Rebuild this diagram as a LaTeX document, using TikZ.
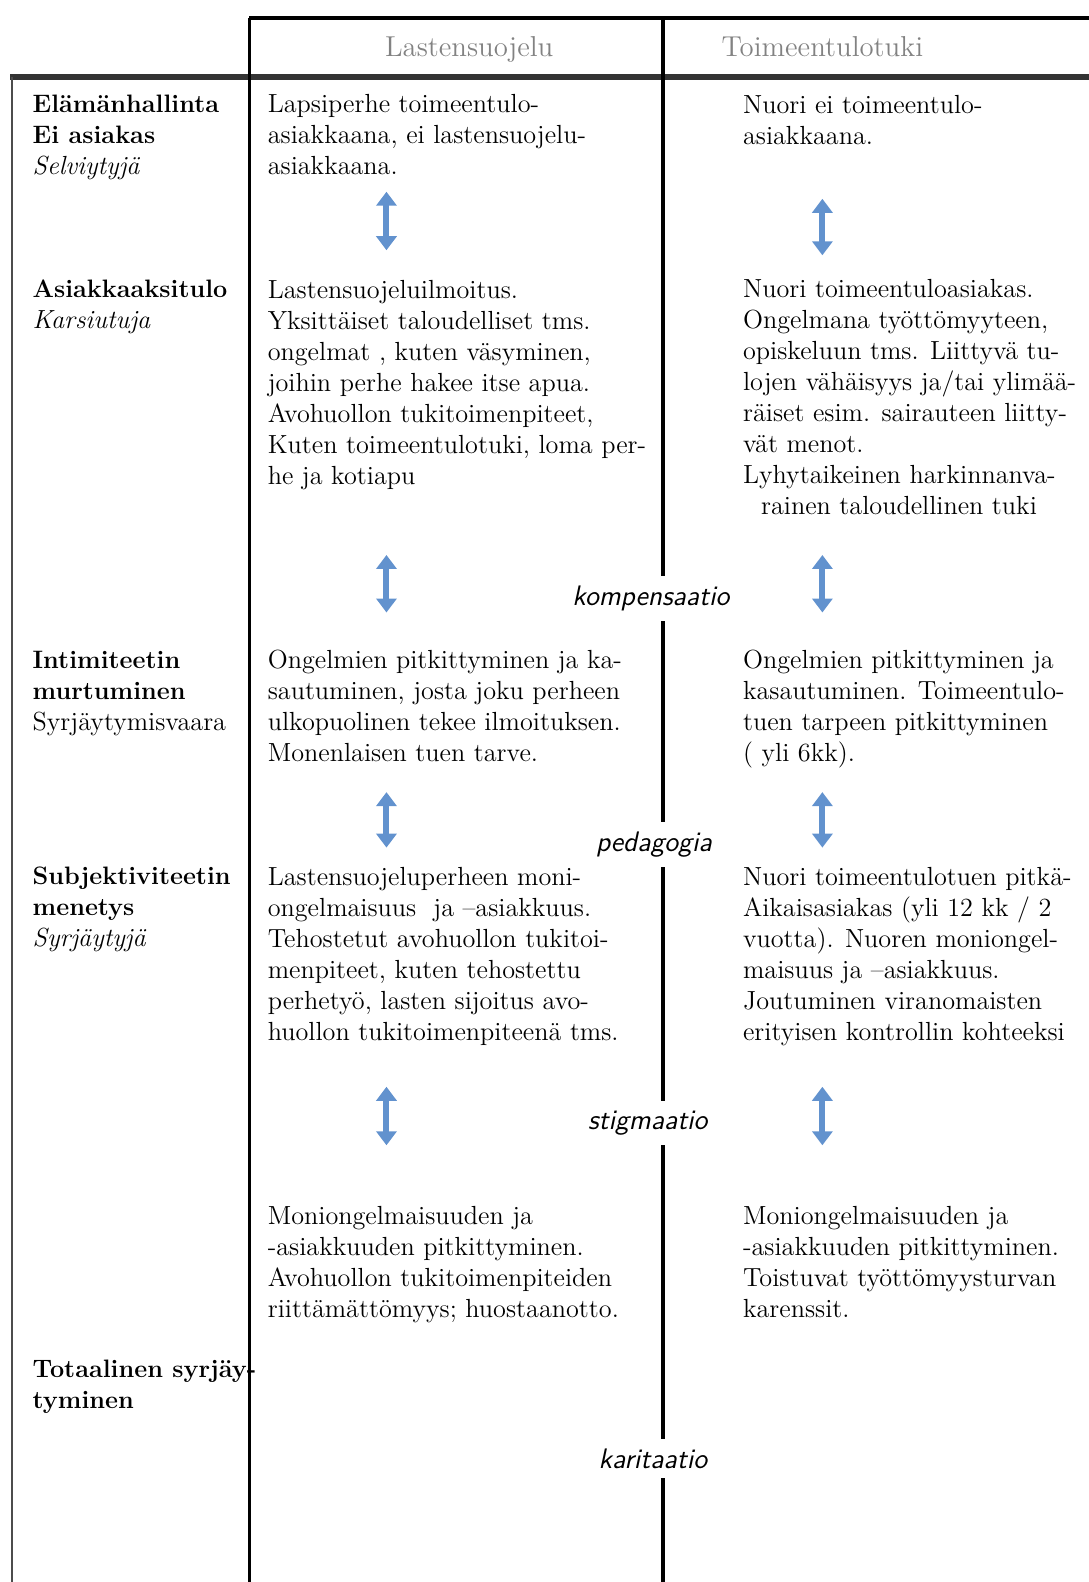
\documentclass[tikz,border=0pt]{standalone}
\usepackage{fontspec}
\usetikzlibrary{arrows.meta}
\definecolor{sininen}{RGB}{98,146,206}
\definecolor{harmaa}{RGB}{130,130,130}
\newcommand{\vahva}[1]{{\fontsize{12.6}{15.5}\selectfont\bfseries #1}}
\begin{document}
\begin{tikzpicture}[x=0.5045pt,y=-0.5045pt,
    teksti/.style={anchor=base west,align=left,inner sep=0pt,font=\fontsize{13.1}{15.5}\selectfont},
    otsikko/.style={anchor=base,inner sep=0pt,text=harmaa,font=\fontsize{14.4}{16}\selectfont},
    vali/.style={anchor=base,fill=white,inner xsep=1pt,inner ysep=5pt,font=\fontsize{14.1}{16}\selectfont\sffamily\itshape},
    nuoli/.style={{Triangle[width=10pt,length=7pt]}-{Triangle[width=10pt,length=7pt]},line width=3pt,sininen}]
                \useasboundingbox (0,0) rectangle (1079.2,1567.8);
                % taulukon viivat
                \draw[line width=2pt] (247,18)--(1080,18);
                \draw[line width=3pt,black!80] (10,76)--(1080,76);
                \draw[line width=1.2pt,black!70] (12,76)--(12,1570);
                \draw[line width=1.6pt] (247,18)--(247,1570);
                \draw[line width=1.7pt] (657,18)--(657,1570);
                \node[otsikko] (lsotsikko) at (465,56) {Lastensuojelu};
                \node[otsikko] (ttotsikko) at (815,56) {Toimeentulotuki};
                % vasen sarake (base = viimeisen rivin perusviiva)
                \node[teksti] (elama) at (32,173) {\vahva{Elämänhallinta}\\\vahva{Ei asiakas}\\\textit{Selviytyjä}};
                \node[teksti] (tulo) at (32,326) {\vahva{Asiakkaaksitulo}\\\textit{Karsiutuja}};
                \node[teksti] (intim) at (32,724) {\vahva{Intimiteetin}\\\vahva{murtuminen}\\Syrjäytymisvaara};
                \node[teksti] (subj) at (32,938) {\vahva{Subjektiviteetin}\\\vahva{menetys}\\\textit{Syrjäytyjä}};
                \node[teksti] (total) at (32,1396) {\vahva{Totaalinen syrjäy-}\\\vahva{tyminen}};
                % lastensuojelu
                \node[teksti] (ls1) at (265,173) {Lapsiperhe toimeentulo-\\asiakkaana, ei lastensuojelu-\\asiakkaana.};
                \node[teksti] (ls2) at (265,480) {Lastensuojeluilmoitus.\\Yksittäiset taloudelliset tms.\\ongelmat , kuten väsyminen,\\joihin perhe hakee itse apua.\\Avohuollon tukitoimenpiteet,\\Kuten toimeentulotuki, loma per-\\he ja kotiapu};
                \node[teksti] (ls3) at (265,755) {Ongelmien pitkittyminen ja ka-\\sautuminen, josta joku perheen\\ulkopuolinen tekee ilmoituksen.\\Monenlaisen tuen tarve.};
                \node[teksti] (ls4) at (265,1031) {Lastensuojeluperheen moni-\\ongelmaisuus\ \ ja –asiakkuus.\\Tehostetut avohuollon tukitoi-\\menpiteet, kuten tehostettu\\perhetyö, lasten sijoitus avo-\\huollon tukitoimenpiteenä tms.};
                \node[teksti] (ls5) at (265,1306) {Moniongelmaisuuden ja\\-asiakkuuden pitkittyminen.\\Avohuollon tukitoimenpiteiden\\riittämättömyys; huostaanotto.};
                % toimeentulotuki
                \node[teksti] (tt1) at (736,143) {Nuori ei toimeentulo-\\asiakkaana.};
                \node[teksti] (tt2) at (736,510) {Nuori toimeentuloasiakas.\\Ongelmana työttömyyteen,\\opiskeluun tms. Liittyvä tu-\\lojen vähäisyys ja/tai ylimää-\\räiset esim. sairauteen liitty-\\vät menot.\\Lyhytaikeinen harkinnanva-\\\hspace*{9pt}rainen taloudellinen tuki};
                \node[teksti] (tt3) at (736,755) {Ongelmien pitkittyminen ja\\kasautuminen. Toimeentulo-\\tuen tarpeen pitkittyminen\\( yli 6kk).};
                \node[teksti] (tt4) at (736,1031) {Nuori toimeentulotuen pitkä-\\Aikaisasiakas (yli 12 kk / 2\\vuotta). Nuoren moniongel-\\maisuus ja –asiakkuus.\\Joutuminen viranomaisten\\erityisen kontrollin kohteeksi};
                \node[teksti] (tt5) at (736,1306) {Moniongelmaisuuden ja\\-asiakkuuden pitkittyminen.\\Toistuvat työttömyysturvan\\karenssit.};
                % siirtymat
                \node[vali] (komp) at (645,600) {kompensaatio};
                \node[vali] (peda) at (648,844) {pedagogia};
                \node[vali] (stig) at (642,1119) {stigmaatio};
                \node[vali] (kari) at (647,1455) {karitaatio};
                \foreach \ya/\yb/\yc/\yd [count=\i] in {190/248/197/253,550/607/550/607,785/840/785/840,1077/1135/1077/1135}{
                    \coordinate (lsyla\i) at (383,\ya);
                    \coordinate (lsala\i) at (383,\yb);
                    \coordinate (ttyla\i) at (815,\yc);
                    \coordinate (ttala\i) at (815,\yd);
                    \draw[nuoli] (lsyla\i)--(lsala\i);
                    \draw[nuoli] (ttyla\i)--(ttala\i);
                }
            \end{tikzpicture}
\end{document}
